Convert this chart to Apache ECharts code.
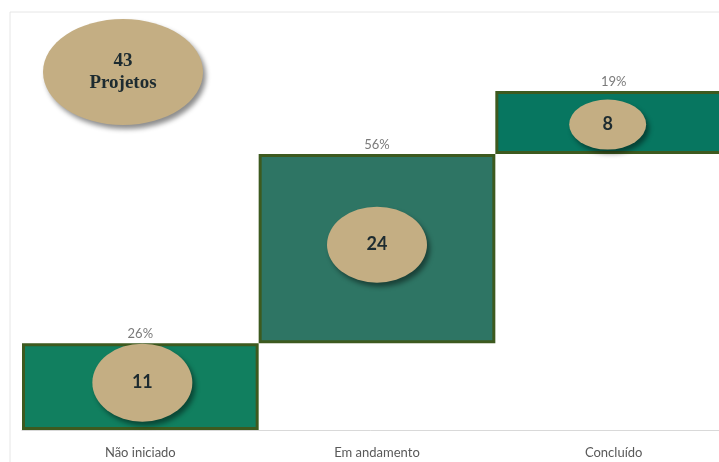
<!DOCTYPE html>
<html><head><meta charset="utf-8">
<script src="https://cdn.jsdelivr.net/npm/echarts@6/dist/echarts.min.js"></script>
<style>html,body{margin:0;padding:0;background:#fff}#c{width:719px;height:462px}</style>
</head><body><div id="c"></div>
<script>
var categories = ['Não iniciado', 'Em andamento', 'Concluído'];
var values = [11, 24, 8];
var percents = ['26%', '56%', '19%'];
var total = 43;
var totalLabel = ['43', 'Projetos'];

var bases = [];
var acc = 0;
values.forEach(function (v) { bases.push(acc); acc += v; });
var ellipseSizes = [[100, 78], [100, 76], [77, 50]];
var ellipseOffsets = [[2, -4], [0, -4], [-6, 2]];
var mids = values.map(function (v, i) {
  return { value: [i, bases[i] + v / 2, v], symbolSize: ellipseSizes[i], symbolOffset: ellipseOffsets[i] };
});
var barColors = ['#117f5f', '#2e7564', '#077660'];

var chart = echarts.init(document.getElementById('c'));
chart.setOption({
  animation: false,
  grid: { left: 22, top: 91, width: 710, bottom: 32, containLabel: false, outerBoundsMode: 'none' },
  xAxis: {
    type: 'category', data: categories,
    axisLine: { lineStyle: { color: '#d9d9d9', width: 1 } },
    axisTick: { show: false },
    axisLabel: { color: '#595959', fontFamily: 'Lato', fontSize: 13, margin: 16 }
  },
  yAxis: { type: 'value', min: 0, max: total, show: false, splitLine: { show: false } },
  graphic: [
    { type: 'rect', shape: { x: 10, y: 12, width: 730, height: 470 }, style: { fill: 'none', stroke: '#e6e6e6', lineWidth: 1 }, z: 0 },
    { type: 'ellipse', shape: { cx: 123, cy: 72, rx: 80, ry: 53 },
      style: { fill: '#c4ae83', shadowBlur: 5, shadowOffsetX: 3, shadowOffsetY: 4, shadowColor: 'rgba(0,0,0,0.45)' }, z: 10 },
    { type: 'text', x: 123, y: 72, z: 11,
      style: { text: totalLabel.join('\n'), font: 'bold 19px "Liberation Serif"', fill: '#1d2b30', align: 'center', verticalAlign: 'middle', lineHeight: 22 } }
  ],
  series: [
    { type: 'bar', stack: 'w', data: bases, itemStyle: { color: 'transparent' }, barCategoryGap: 0, silent: true },
    { type: 'bar', stack: 'w', barCategoryGap: 0,
      data: values.map(function (v, i) { return { value: v, itemStyle: { color: barColors[i] } }; }),
      itemStyle: { borderColor: '#3d5a1f', borderWidth: 3 },
      label: { show: true, position: 'top', distance: 3, color: '#7a7a7a', fontFamily: 'Lato', fontSize: 13,
        formatter: function (p) { return percents[p.dataIndex]; } }
    },
    { type: 'scatter', data: mids, symbol: 'circle',
      itemStyle: { color: '#c4ae83', opacity: 1, shadowBlur: 5, shadowOffsetX: 3, shadowOffsetY: 4, shadowColor: 'rgba(0,0,0,0.45)' },
      label: { show: true, position: 'inside', color: '#1d2b30', fontFamily: 'Lato', fontWeight: 'bold', fontSize: 18,
        formatter: function (p) { return String(p.value[2]); } },
      z: 5
    }
  ]
});
</script></body></html>
